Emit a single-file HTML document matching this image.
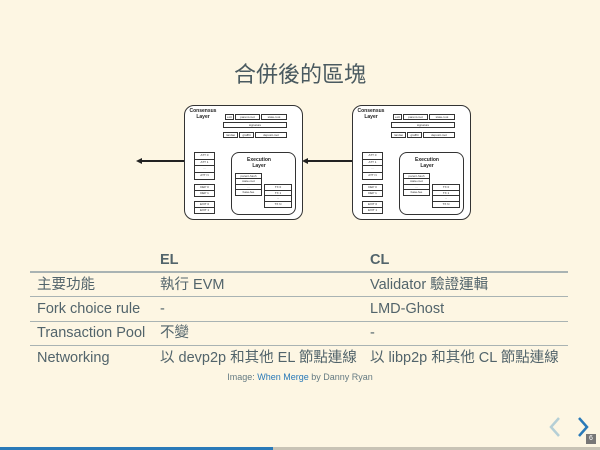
<!DOCTYPE html>
<html><head><meta charset="utf-8"><style>
*{margin:0;padding:0;box-sizing:border-box}
body{width:600px;height:450px;background:#fdf6e3;position:relative;overflow:hidden;font-family:"Liberation Sans","Noto Sans CJK TC",sans-serif;color:#586e75}
.a{position:absolute}
.blk{position:absolute;width:119px;height:115px}
.blk div{position:absolute}
.o{left:0;top:0;width:119px;height:115px;border:1.5px solid #333;border-radius:10px;background:#fff}
.ex{border:1.2px solid #333;border-radius:8px;background:#fff}
.b{border:1px solid #333;background:#fff;font-size:3px;color:#333;text-align:center;line-height:4px}
.g{border:1px solid #333;background:#fff}
.g i{display:block;border-bottom:1px solid #333;height:25%;font-size:3px;font-style:normal;text-align:center;color:#333}
.lab{font-size:5px;font-weight:bold;color:#222;line-height:6px;text-align:center}
.ln{position:absolute;height:1.5px;background:#222}
.ah{position:absolute;width:0;height:0;border-top:3px solid transparent;border-bottom:3px solid transparent;border-right:6px solid #222}
table{position:absolute;left:30px;top:248px;width:538px;border-collapse:collapse;font-size:14.5px;color:#52646b}
td{padding:0 0 0 7px;height:24.5px;line-height:18px;vertical-align:middle;white-space:nowrap}
tr.h td{font-weight:bold;height:24px;border-bottom:2px solid #a9b3b3}
tr.r td{border-bottom:1px solid #a9b3b3}
tr.l td{border-bottom:none}
</style></head><body>
<div class="a" style="left:0;top:57px;width:600px;text-align:center;font-size:22px;color:#4a5a60">合併後的區塊</div>

<div class="ln" style="left:140px;top:160px;width:44px"></div><div class="ah" style="left:136px;top:158px"></div>
<div class="ln" style="left:306px;top:160px;width:47px"></div><div class="ah" style="left:302px;top:158px"></div>

<div class="blk" style="left:184px;top:105px">
<div class="o"></div>
<div class="lab" style="left:4px;top:3px;width:30px">Consensus<br>Layer</div>
<div class="b" style="left:41px;top:9px;width:9px;height:6px">exit</div>
<div class="b" style="left:51px;top:9px;width:25px;height:6px">parent-root</div>
<div class="b" style="left:77px;top:9px;width:26px;height:6px">state-root</div>
<div class="b" style="left:39px;top:17px;width:64px;height:6px">signature</div>
<div class="b" style="left:39px;top:27px;width:15px;height:6px">randao</div>
<div class="b" style="left:55px;top:27px;width:15px;height:6px">graffiti</div>
<div class="b" style="left:71px;top:27px;width:32px;height:6px">deposit-root</div>
<div class="g" style="left:10px;top:47px;width:21px;height:28px"><i>ATT 0</i><i>ATT 1</i><i>...</i><i style="border:0">ATT N</i></div>
<div class="g" style="left:10px;top:79px;width:21px;height:13px"><i style="height:50%">DEP 0</i><i style="height:50%;border:0">DEP 1</i></div>
<div class="g" style="left:10px;top:96px;width:21px;height:13px"><i style="height:50%">EXIT 0</i><i style="height:50%;border:0">EXIT 1</i></div>
<div class="ex" style="left:47px;top:47px;width:65px;height:63px"></div>
<div class="lab" style="left:60px;top:52px;width:30px">Execution<br>Layer</div>
<div class="g" style="left:51px;top:68px;width:27px;height:23px"><i>parent-hash</i><i>state-root</i><i>...</i><i style="border:0">base-fee</i></div>
<div class="g" style="left:80px;top:79px;width:28px;height:24px"><i>TX 0</i><i>TX 1</i><i>...</i><i style="border:0">TX N</i></div>
</div>

<div class="blk" style="left:352px;top:105px">
<div class="o"></div>
<div class="lab" style="left:4px;top:3px;width:30px">Consensus<br>Layer</div>
<div class="b" style="left:41px;top:9px;width:9px;height:6px">exit</div>
<div class="b" style="left:51px;top:9px;width:25px;height:6px">parent-root</div>
<div class="b" style="left:77px;top:9px;width:26px;height:6px">state-root</div>
<div class="b" style="left:39px;top:17px;width:64px;height:6px">signature</div>
<div class="b" style="left:39px;top:27px;width:15px;height:6px">randao</div>
<div class="b" style="left:55px;top:27px;width:15px;height:6px">graffiti</div>
<div class="b" style="left:71px;top:27px;width:32px;height:6px">deposit-root</div>
<div class="g" style="left:10px;top:47px;width:21px;height:28px"><i>ATT 0</i><i>ATT 1</i><i>...</i><i style="border:0">ATT N</i></div>
<div class="g" style="left:10px;top:79px;width:21px;height:13px"><i style="height:50%">DEP 0</i><i style="height:50%;border:0">DEP 1</i></div>
<div class="g" style="left:10px;top:96px;width:21px;height:13px"><i style="height:50%">EXIT 0</i><i style="height:50%;border:0">EXIT 1</i></div>
<div class="ex" style="left:47px;top:47px;width:65px;height:63px"></div>
<div class="lab" style="left:60px;top:52px;width:30px">Execution<br>Layer</div>
<div class="g" style="left:51px;top:68px;width:27px;height:23px"><i>parent-hash</i><i>state-root</i><i>...</i><i style="border:0">base-fee</i></div>
<div class="g" style="left:80px;top:79px;width:28px;height:24px"><i>TX 0</i><i>TX 1</i><i>...</i><i style="border:0">TX N</i></div>
</div>

<table>
<tr class="h"><td style="width:123px"></td><td style="width:210px">EL</td><td>CL</td></tr>
<tr class="r"><td>主要功能</td><td>執行 EVM</td><td>Validator 驗證運輯</td></tr>
<tr class="r"><td>Fork choice rule</td><td>-</td><td>LMD-Ghost</td></tr>
<tr class="r"><td>Transaction Pool</td><td>不變</td><td>-</td></tr>
<tr class="l"><td>Networking</td><td>以 devp2p 和其他 EL 節點連線</td><td>以 libp2p 和其他 CL 節點連線</td></tr>
</table>
<div class="a" style="left:0;top:372px;width:600px;text-align:center;font-size:9px;color:#657b83">Image: <span style="color:#2a7ab8">When Merge</span> by Danny Ryan</div>

<svg class="a" style="left:545px;top:415px" width="50" height="25"><polyline points="14,3 6,12 14,21" fill="none" stroke="#b5cfd6" stroke-width="2.5"/><polyline points="34,3 42,12 34,21" fill="none" stroke="#2a7ab8" stroke-width="2.5"/></svg>
<div class="a" style="left:586px;top:434px;width:10px;height:10px;background:#777;color:#fff;font-size:7px;text-align:center;line-height:10px">6</div>
<div class="a" style="left:0;top:447px;width:600px;height:3px;background:#c8c3b5"></div>
<div class="a" style="left:0;top:447px;width:273px;height:3px;background:#2a7ab8"></div>
</body></html>
